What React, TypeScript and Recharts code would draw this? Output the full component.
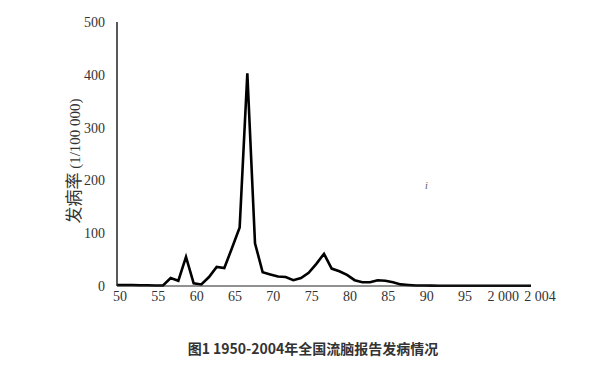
import { LineChart, Line, XAxis, YAxis } from 'recharts';

// Years 1950..2004, reported meningococcal meningitis incidence (1/100 000)
const years = [
  1950, 1951, 1952, 1953, 1954, 1955, 1956, 1957, 1958, 1959,
  1960, 1961, 1962, 1963, 1964, 1965, 1966, 1967, 1968, 1969,
  1970, 1971, 1972, 1973, 1974, 1975, 1976, 1977, 1978, 1979,
  1980, 1981, 1982, 1983, 1984, 1985, 1986, 1987, 1988, 1989,
  1990, 1991, 1992, 1993, 1994, 1995, 1996, 1997, 1998, 1999,
  2000, 2001, 2002, 2003, 2004,
];
const rates = [
  2, 2, 2, 1.5, 1.5, 1, 1, 15, 10, 55,
  5, 3, 17, 36, 34, 72, 111, 403, 81, 26,
  22, 18, 17, 11, 15, 25, 42, 61, 33, 28,
  21, 11, 7, 7, 11, 10, 7, 3, 2, 1,
  1, 0.8, 0.6, 0.5, 0.5, 0.5, 0.4, 0.4, 0.4, 0.4,
  0.4, 0.4, 0.4, 0.4, 0.4,
];
const xTicks = [1950, 1955, 1960, 1965, 1970, 1975, 1980, 1985, 1990, 1995, 2000, 2004];
const xTickLabels = ['50', '55', '60', '65', '70', '75', '80', '85', '90', '95', '2 000', '2 004'];
const yTicks = [0, 100, 200, 300, 400, 500];

const data = years.map((y, i) => ({ year: y, rate: rates[i] }));

const serif = '"Liberation Serif", "DejaVu Serif", serif';

function XTick(props: any) {
  const { x, y, payload } = props;
  const i = xTicks.indexOf(payload.value);
  // labels sit a little right of their year in the original
  const shift = payload.value === 2004 ? 9 : 3;
  return (
    <text x={x + shift} y={y + 4} textAnchor="middle" dominantBaseline="middle"
      fontFamily={serif} fontSize={14} fill="#333">
      {xTickLabels[i]}
    </text>
  );
}

export default function App() {
  return (
    <div style={{ position: 'absolute', left: 0, top: 0, width: 600, height: 369, background: '#fff' }}>
      <LineChart width={600} height={369} data={data}
        margin={{ top: 22, right: 69, bottom: 53, left: 57 }}>
        <XAxis dataKey="year" type="number" domain={[1950, 2004]} ticks={xTicks}
          interval={0} tickLine={false} axisLine={{ stroke: '#222', strokeWidth: 1 }}
          height={30} tick={<XTick />} />
        <YAxis type="number" domain={[0, 500]} ticks={yTicks} width={60}
          tickLine={false} axisLine={{ stroke: '#222', strokeWidth: 1.5 }}
          tick={{ fontFamily: serif, fontSize: 14, fill: '#333', dx: -4 }} />
        <Line type="linear" dataKey="rate" stroke="#000" strokeWidth={2.6}
          dot={false} isAnimationActive={false} />
      </LineChart>
      <div style={{
        position: 'absolute', left: 72, top: 161, transform: 'translate(-50%, -50%) rotate(-90deg)',
        whiteSpace: 'nowrap', fontFamily: serif, fontSize: 15, color: '#333',
      }}>
        <span style={{ fontFamily: '"Noto Sans CJK SC", sans-serif', fontSize: 17 }}>发病率</span> (1/100 000)
      </div>
      <div style={{
        position: 'absolute', left: 425, top: 180, fontFamily: serif, fontStyle: 'italic',
        fontSize: 10, color: '#555',
      }}>i</div>
      <div style={{
        position: 'absolute', left: 0, width: 626, top: 338, textAlign: 'center',
        fontFamily: '"Noto Sans CJK SC", "Noto Sans", sans-serif', fontWeight: 700,
        fontSize: 14, color: '#333',
      }}>
        图1 1950-2004年全国流脑报告发病情况
      </div>
    </div>
  );
}
